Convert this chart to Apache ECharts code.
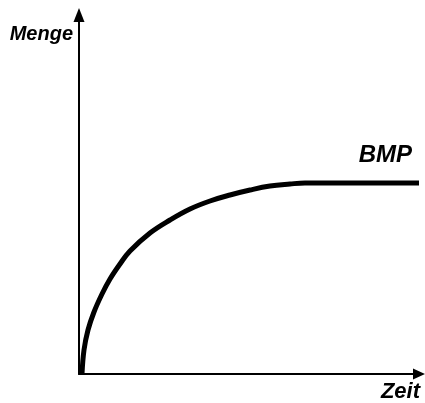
<!DOCTYPE html>
<html>
<head>
<meta charset="utf-8">
<script src="https://cdn.jsdelivr.net/npm/echarts@6/dist/echarts.min.js"></script>
<style>
  html, body { margin: 0; padding: 0; background: #fff; }
  #chart { width: 425px; height: 403px; }
</style>
</head>
<body>
<div id="chart"></div>
<script>
// Zeit / Menge (Einheiten ~ Pixel ab Achsenursprung)
var zeit  = [3, 5, 9, 15, 23, 31, 41, 51, 71, 91, 111, 131, 151, 171, 191, 211, 226, 340];
var menge = [0, 24, 44, 62, 80, 95, 110, 123, 141, 154, 165, 173, 179, 184, 188, 190, 191, 191];
var curveName = 'BMP';
var xName = 'Zeit';
var yName = 'Menge';

var points = [];
for (var i = 0; i < zeit.length; i++) {
    points.push([zeit[i], menge[i]]);
}

var font = {
    fontFamily: 'Liberation Sans',
    fontWeight: 'bold',
    fontStyle: 'italic',
    color: '#000'
};

var myChart = echarts.init(document.getElementById('chart'));
var option = {
    animation: false,
    backgroundColor: '#fff',
    grid: { left: 79, right: 6, top: 15, bottom: 29 },
    xAxis: {
        type: 'value',
        min: 0,
        max: 340,
        axisLine: {
            lineStyle: { color: '#000', width: 2 },
            symbol: ['none', 'triangle'],
            symbolSize: [11, 12]
        },
        axisTick: { show: false },
        axisLabel: { show: false },
        splitLine: { show: false }
    },
    yAxis: {
        type: 'value',
        min: 0,
        max: 359,
        name: yName,
        nameLocation: 'end',
        nameGap: -19,
        nameTextStyle: Object.assign({}, font, {
            fontSize: 20, align: 'right', verticalAlign: 'middle', padding: [0, 6, 0, 0]
        }),
        axisLine: {
            lineStyle: { color: '#000', width: 2 },
            symbol: ['none', 'triangle'],
            symbolSize: [11, 14]
        },
        axisTick: { show: false },
        axisLabel: { show: false },
        splitLine: { show: false }
    },
    graphic: [{
        type: 'text',
        right: 5,
        top: 381,
        style: Object.assign({}, font, {
            text: xName,
            fill: '#000',
            fontSize: 22
        })
    }],
    series: [{
        name: curveName,
        type: 'line',
        data: points,
        smooth: 0.4,
        showSymbol: false,
        lineStyle: { color: '#000', width: 5, cap: 'butt' },
        endLabel: Object.assign({
            show: true,
            formatter: curveName,
            fontSize: 24,
            align: 'right',
            verticalAlign: 'bottom',
            distance: 0,
            offset: [-7, -16]
        }, font)
    }]
};
myChart.setOption(option);
</script>
</body>
</html>
